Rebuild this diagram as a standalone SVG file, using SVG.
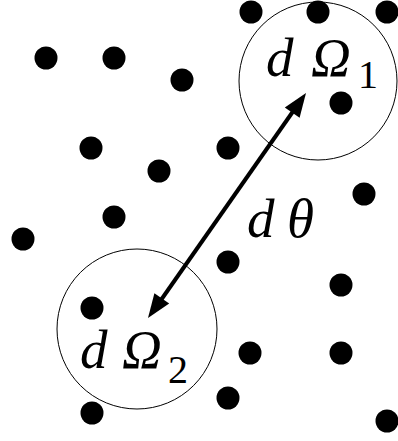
<svg xmlns="http://www.w3.org/2000/svg" width="398" height="441" viewBox="0 0 398 441">
<style>
.dot{fill:#000}
.region{fill:none;stroke:#000;stroke-width:1}
.lbl{font-family:"Liberation Serif","Times New Roman",serif;font-style:italic;font-size:55px;fill:#000}
.sub{font-family:"Liberation Serif","Times New Roman",serif;font-size:40px;fill:#000}
.shaft{stroke:#000;stroke-width:4;fill:none}
.head{fill:#000}
</style>
<rect width="398" height="441" fill="#fff"/>
<g id="points">
<circle class="dot" cx="251" cy="12" r="11.5"/>
<circle class="dot" cx="318" cy="12" r="11.5"/>
<circle class="dot" cx="387" cy="12" r="11.5"/>
<circle class="dot" cx="46" cy="58" r="11.5"/>
<circle class="dot" cx="114" cy="58" r="11.5"/>
<circle class="dot" cx="182" cy="80" r="11.5"/>
<circle class="dot" cx="341" cy="103" r="11.5"/>
<circle class="dot" cx="91" cy="148" r="11.5"/>
<circle class="dot" cx="228" cy="148" r="11.5"/>
<circle class="dot" cx="159" cy="171" r="11.5"/>
<circle class="dot" cx="364" cy="194" r="11.5"/>
<circle class="dot" cx="114" cy="217" r="11.5"/>
<circle class="dot" cx="23" cy="239" r="11.5"/>
<circle class="dot" cx="228" cy="262" r="11.5"/>
<circle class="dot" cx="341" cy="285" r="11.5"/>
<circle class="dot" cx="92" cy="308" r="11.5"/>
<circle class="dot" cx="250" cy="353" r="11.5"/>
<circle class="dot" cx="341" cy="353" r="11.5"/>
<circle class="dot" cx="228" cy="398" r="11.5"/>
<circle class="dot" cx="92" cy="413" r="11.5"/>
<circle class="dot" cx="387" cy="421" r="11.5"/>
</g>
<g id="omega1">
<circle class="region" cx="318" cy="81" r="79"/>
<text class="lbl" x="266" y="76">d</text>
<text class="lbl" x="311" y="76">Ω</text>
<text class="sub" x="358" y="88">1</text>
</g>
<g id="omega2">
<circle class="region" cx="137" cy="329" r="80"/>
<text class="lbl" x="80" y="368">d</text>
<text class="lbl" x="122" y="368">Ω</text>
<text class="sub" x="168" y="383">2</text>
</g>
<g id="connectors">
<line class="shaft" x1="294" y1="110" x2="161" y2="300"/>
<polygon class="head" points="306,93 299.6,117.8 284.8,107.4"/>
<polygon class="head" points="148,318 154.4,293.2 169.2,303.6"/>
<text class="lbl" x="247" y="237">d</text>
<text class="lbl" x="287" y="237">θ</text>
</g>
</svg>
